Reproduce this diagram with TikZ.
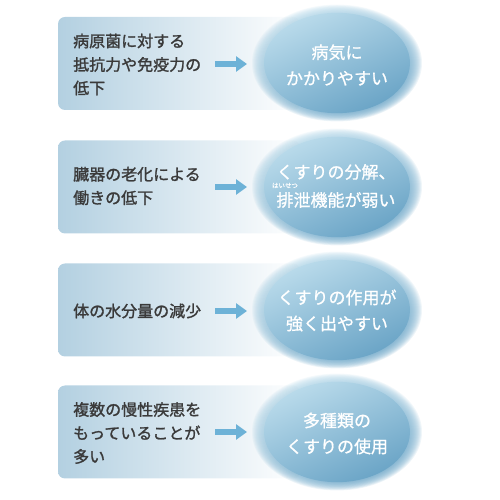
\documentclass[tikz,border=0pt]{standalone}
\usepackage{fontspec}
\setmainfont{Noto Sans CJK JP}
\newfontfamily\jp{Noto Sans CJK JP}[FakeBold=1.4]
\newfontfamily\jpe{Noto Sans CJK JP}[FakeBold=0.8]
\usetikzlibrary{arrows.meta,shapes.geometric}
\definecolor{boxL}{HTML}{B3D0E1}
\definecolor{arrowc}{HTML}{6DB2D7}
\definecolor{txt}{HTML}{3A3A3A}
\definecolor{elight}{HTML}{BADBEB}
\definecolor{emid}{HTML}{90C1DA}
\definecolor{edark}{HTML}{6AA4C6}
\begin{document}
\begin{tikzpicture}[x=1pt,y=1pt,
  panel/.style={rectangle, rounded corners=7pt, left color=boxL, right color=white,
    minimum width=242pt, minimum height=93pt, inner sep=0pt},
  ballspot/.style={ellipse, minimum width=160pt, minimum height=110pt, inner sep=0pt},
  ballfill/.style={top color=elight, middle color=emid, bottom color=edark,
    shading angle=25},
  lefttext/.style={anchor=west, inner sep=0pt, align=left, text=txt,
    font=\jp\fontsize{16pt}{23.5pt}\selectfont},
  balltext/.style={inner sep=0pt, align=center, text=white,
    font=\jpe\fontsize{17pt}{26pt}\selectfont},
  ruby/.style={inner sep=0pt, text=white, font=\jpe\fontsize{6.5pt}{7pt}\selectfont},
  blockarrow/.style={draw=arrowc, line width=6.5pt,
    -{Triangle[length=11pt,width=15pt]}}
]
\useasboundingbox (0,0) rectangle (500,500);
% panels
\node[panel] (b1) at (179,436.5) {};
\node[panel] (b2) at (179,313) {};
\node[panel] (b3) at (179,190) {};
\node[panel] (b4) at (179,68) {};
% left texts
\node[lefttext] (t1) at (73,435.5) {病原菌に対する\\抵抗力や免疫力の\\低下};
\node[lefttext] (t2) at (73,314) {臓器の老化による\\働きの低下};
\node[lefttext] (t3) at (73,189) {体の水分量の減少};
\node[lefttext] (t4) at (73,67) {複数の慢性疾患を\\もっていることが\\多い};
% ellipses with soft edge
\foreach \i/\yy in {1/437,2/313,3/190,4/68}{
  \node[ballspot] (e\i) at (337,\yy) {};
  \foreach \k in {0,...,11}{
    \pgfmathsetmacro\rx{85-\k}
    \pgfmathsetmacro\ry{\rx/1.4545}
    \shade[ballfill, opacity=0.12] (e\i.center) ellipse [x radius=\rx, y radius=\ry];
  }
  \shade[ballfill] (e\i.center) ellipse [x radius=73, y radius=50.2];
}
% ellipse texts
\node[balltext] (u1) at (337,435) {病気に\\かかりやすい};
\node[balltext] (u2a) at (336,328) {くすりの分解、};
\node[ruby] (r2) at (285,314.5) {はいせつ};
\node[balltext] (u2b) at (336,300) {排泄機能が弱い};
\node[balltext] (u3) at (337,189.5) {くすりの作用が\\強く出やすい};
\node[balltext] (u4) at (337,66.5) {多種類の\\くすりの使用};
% arrows
\foreach \i/\yy in {1/436,2/313,3/189,4/68}{
  \coordinate (as\i) at (215,\yy);
  \coordinate (ae\i) at (247,\yy);
  \draw[blockarrow] (as\i) -- (ae\i);
}
\end{tikzpicture}
\end{document}
